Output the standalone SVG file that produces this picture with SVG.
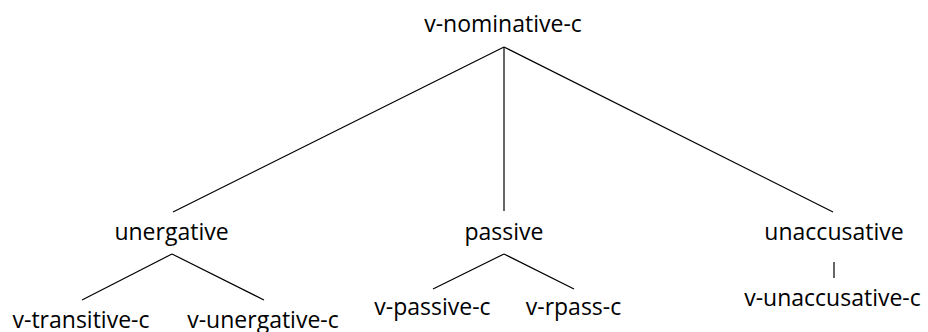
<svg xmlns="http://www.w3.org/2000/svg" width="928" height="332" viewBox="0 0 928 332">
<style>
text{font-family:"Open Sans","Noto Sans","DejaVu Sans",sans-serif;font-size:23px;fill:#000;text-anchor:middle}
line{stroke:#000;stroke-width:1.2}
</style>
<rect width="928" height="332" fill="#fff"/>
<g id="connectors">
<line x1="504" y1="47" x2="173" y2="212"/>
<line x1="504" y1="47" x2="504" y2="211"/>
<line x1="504" y1="47" x2="833" y2="212"/>
<line x1="172" y1="254" x2="82" y2="300"/>
<line x1="172" y1="254" x2="264" y2="300"/>
<line x1="504" y1="254" x2="433" y2="289"/>
<line x1="504" y1="254" x2="574" y2="289"/>
<line x1="834" y1="262" x2="834" y2="278"/>
</g>
<g id="n-root"><text x="503" y="32">v-nominative-c</text></g>
<g id="n-unergative"><text x="171.5" y="240">unergative</text></g>
<g id="n-passive"><text x="504" y="240">passive</text></g>
<g id="n-unaccusative"><text x="834" y="240">unaccusative</text></g>
<g id="n-vtransitive"><text x="81" y="328">v-transitive-c</text></g>
<g id="n-vunergative"><text x="263" y="328">v-unergative-c</text></g>
<g id="n-vpassive"><text x="432.5" y="315">v-passive-c</text></g>
<g id="n-vrpass"><text x="573.5" y="315">v-rpass-c</text></g>
<g id="n-vunaccusative"><text x="832.5" y="306">v-unaccusative-c</text></g>
</svg>
